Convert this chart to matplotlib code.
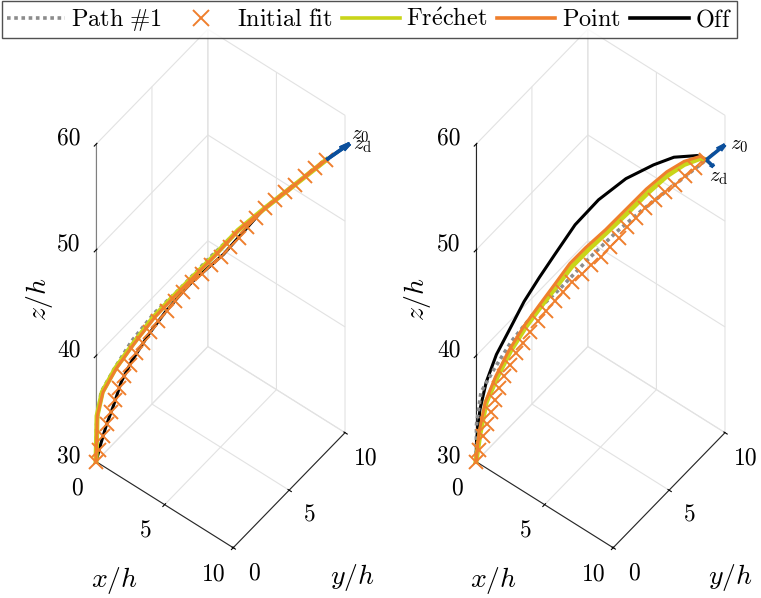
import numpy as np
import matplotlib
matplotlib.use('Agg')
import matplotlib.pyplot as plt
from matplotlib.lines import Line2D

plt.rcParams['mathtext.fontset'] = 'cm'
plt.rcParams['font.family'] = 'serif'
plt.rcParams['font.serif'] = ['cmr10', 'DejaVu Serif']
plt.rcParams['axes.unicode_minus'] = False
plt.rcParams['grid.color'] = '#e2e2e2'
plt.rcParams['grid.linewidth'] = 0.8

# values read off the projected view; along every curve x/h = y/h = s
# Path #1 and the initial fit are the same in both panels
path_s = [0, 0.02, 0.2, 0.74, 1.43, 2.34, 3.36, 4.55, 5.66, 6.76, 8.11, 9.25]
path_z = [30, 33.5, 36.5, 38.6, 41.0, 43.4, 45.4, 48.0, 50.2, 52.1, 54.2, 56.0]

fit_s = [0, 0.13, 0.28, 0.43, 0.60, 0.77, 0.93, 1.13, 1.36, 1.62, 1.90, 2.18, 2.50,
         2.83, 3.16, 3.49, 3.86, 4.25, 4.63, 5.02, 5.38, 5.73, 6.07, 6.42, 6.77,
         7.18, 7.59, 8.00, 8.41, 8.81, 9.25]
fit_z = [30.0, 31.1, 32.3, 33.4, 34.5, 35.6, 36.7, 37.8, 38.8, 39.8, 40.7, 41.7, 42.6,
         43.5, 44.3, 45.1, 45.9, 46.6, 47.3, 48.0, 48.8, 49.6, 50.5, 51.3, 52.1,
         52.8, 53.4, 54.0, 54.7, 55.3, 56.0]

# left panel
frechet1_s = [0, 0.04, 0.25, 0.78, 1.48, 2.30, 3.12, 3.94, 4.76, 5.70, 6.78, 8.12, 9.25]
frechet1_z = [30, 34.3, 36.5, 38.6, 40.7, 43.0, 44.8, 46.5, 48.2, 50.3, 52.1, 54.2, 56.0]
point1_s = [0, 0.05, 0.28, 0.82, 1.52, 2.36, 3.17, 3.98, 4.80, 5.72, 6.80, 8.12, 9.25]
point1_z = [30, 34.3, 36.5, 38.6, 40.7, 43.0, 44.8, 46.5, 48.2, 50.3, 52.1, 54.2, 56.0]
off1_s = [0, 0.2, 0.41, 0.70, 1.02, 1.43, 2.13, 2.79, 3.48, 3.89, 5.12, 6.76, 8.11, 9.25]
off1_z = [30, 31.7, 33.3, 35.1, 37.3, 39.1, 41.5, 43.4, 45.1, 46.0, 48.2, 52.1, 54.2, 56.0]

# right panel
frechet2_s = [0, 0.16, 0.41, 0.86, 1.39, 2.0, 2.62, 3.24, 3.85, 4.51, 5.29, 6.11, 6.89,
              7.66, 8.36, 9.02, 9.25]
frechet2_z = [30, 32.6, 35.5, 37.8, 40.1, 42.2, 44.0, 45.7, 47.4, 48.8, 50.3, 51.9, 53.5,
              54.9, 55.8, 56.2, 56.0]
point2_s = [0, 0.12, 0.37, 0.78, 1.31, 1.93, 2.54, 3.16, 3.77, 4.39, 5.20, 6.02, 6.84,
            7.66, 8.36, 9.02, 9.25]
point2_z = [30, 32.7, 35.5, 37.8, 40.1, 42.3, 44.1, 45.9, 47.7, 49.0, 50.5, 52.2, 53.9,
            55.3, 56.1, 56.4, 56.0]
off2_s = [0, 0.02, 0.16, 0.41, 0.82, 1.39, 1.93, 2.54, 3.16, 3.98, 4.92, 6.02, 7.13,
          7.95, 8.89, 9.25]
off2_z = [30, 32.0, 34.9, 37.4, 39.9, 42.3, 44.6, 46.7, 48.7, 51.3, 53.4, 55.1, 56.1,
          56.6, 56.5, 56.0]

# direction vectors at the end of the path (s, s, z components)
z0_vec = [[0.94, 0.94, 1.28], [0.75, 0.75, 1.22]]
zd_vec = [[0.94, 0.94, 1.28], [0.29, 0.29, -0.73]]

x_ticks = [0, 5, 10]
y_ticks = [0, 5, 10]
z_ticks = [30, 40, 50, 60]

c_path = '#8c8c8c'
c_fit = '#ef7f2d'
c_fre = '#c9d51a'
c_point = '#ef7f2d'
c_off = '#000000'
c_arrow = '#0b4f9c'

fig = plt.figure(figsize=(7.61, 5.98), dpi=100)

panels = [
    (0.0334, frechet1_s, frechet1_z, point1_s, point1_z, off1_s, off1_z, '#808080'),
    (0.5327, frechet2_s, frechet2_z, point2_s, point2_z, off2_s, off2_z, '#262626'),
]
# where the z0 / zd names sit, per panel
z0_pos = [(10.62, 10.62, 57.87), (10.56, 10.56, 56.97)]
zd_pos = [(10.73, 10.73, 56.93), (9.74, 9.74, 54.17)]

for k, (left, fs, fz, ps, pz, os_, oz, zline) in enumerate(panels):
    ax = fig.add_axes([left, 0.1913, 0.4993, 0.6355], projection='3d',
                      computed_zorder=False)
    ax.set_facecolor('none')
    ax.set_proj_type('ortho')
    ax.view_init(elev=53.5, azim=-52)
    ax.set_box_aspect((0.965, 1.007, 2.958), zoom=1.507)

    ax.plot(os_, os_, oz, color=c_off, lw=2.2, zorder=2)
    ax.plot(path_s, path_s, path_z, color=c_path, lw=2.6, ls=(0, (1, 1)), zorder=3)
    ax.plot(fs, fs, fz, color=c_fre, lw=3.6, zorder=4)
    ax.plot(ps, ps, pz, color=c_point, lw=2.2, zorder=5)
    ax.plot(fit_s, fit_s, fit_z, ls='none', marker='x', ms=10, mew=1.4,
            color=c_fit, zorder=6)

    xe, ze = path_s[-1], path_z[-1]
    ax.quiver(xe, xe, ze, z0_vec[k][0], z0_vec[k][1], z0_vec[k][2],
              color=c_arrow, lw=2.6, arrow_length_ratio=0.35, zorder=7)
    ax.quiver(xe, xe, ze, zd_vec[k][0], zd_vec[k][1], zd_vec[k][2],
              color=c_arrow, lw=2.6, arrow_length_ratio=0.35, zorder=7)
    ax.text(*z0_pos[k], r'$z_0$', fontsize=15, ha='center', va='center')
    ax.text(*zd_pos[k], r'$z_{\mathrm{d}}$', fontsize=15, ha='center', va='center')

    ax.set_xlim(0, 10)
    ax.set_ylim(0, 10)
    ax.set_zlim(30, 60)
    ax.set_xticks(x_ticks)
    ax.set_yticks(y_ticks)
    ax.set_zticks(z_ticks)
    ax.zaxis.set_ticks_position('lower')
    ax.zaxis.set_label_position('lower')

    # tick labels, set just outside each axis line
    for v in x_ticks:
        ax.text(v, -1.7, 29.3, str(v), fontsize=17, ha='center', va='center')
    for v in y_ticks:
        ax.text(11.5, v, 28.8, str(v), fontsize=17, ha='center', va='center')
    for v in z_ticks:
        ax.text(-0.67, -0.54, v + 0.55, str(v), fontsize=17, ha='right', va='center')

    for axis in (ax.xaxis, ax.yaxis, ax.zaxis):
        axis.set_tick_params(labelbottom=False)
        axis.label.set_visible(False)
        axis.offsetText.set_visible(False)
        axis.set_pane_color((1, 1, 1, 0))
        axis.pane.set_edgecolor('#e2e2e2')
        axis.line.set_color('#262626')
        axis.line.set_linewidth(0.8)
    ax.zaxis.line.set_color(zline)

    fig.text(0.151 + 0.497 * k, 0.03, r'$x/h$', fontsize=20, ha='center', va='center')
    fig.text(0.463 + 0.497 * k, 0.035, r'$y/h$', fontsize=20, ha='center', va='center')
    fig.text(0.052 + 0.497 * k, 0.5, r'$z/h$', fontsize=20, ha='center', va='center',
             rotation=90)

handles = [
    Line2D([], [], color=c_path, lw=2.6, ls=(0, (1, 1))),
    Line2D([], [], color=c_fit, ls='none', marker='x', ms=11, mew=1.4),
    Line2D([], [], color=c_fre, lw=2.6),
    Line2D([], [], color=c_point, lw=2.6),
    Line2D([], [], color=c_off, lw=2.6),
]
labels = [r'$\mathrm{Path\ \#1}$', r'$\mathrm{Initial\ fit}$', r'$\mathrm{Fr\acute{e}chet}$',
          r'$\mathrm{Point}$', r'$\mathrm{Off}$']
leg = fig.legend(handles, labels, loc='upper left', bbox_to_anchor=(0.0026, 0.998),
                 ncol=5, fontsize=17.5, frameon=True, fancybox=False, edgecolor='#262626',
                 handlelength=2.4, handletextpad=0.25, columnspacing=0.4,
                 borderpad=0.2, borderaxespad=0.0)
leg.get_frame().set_linewidth(1.0)

fig.savefig('out.png', dpi=100)
